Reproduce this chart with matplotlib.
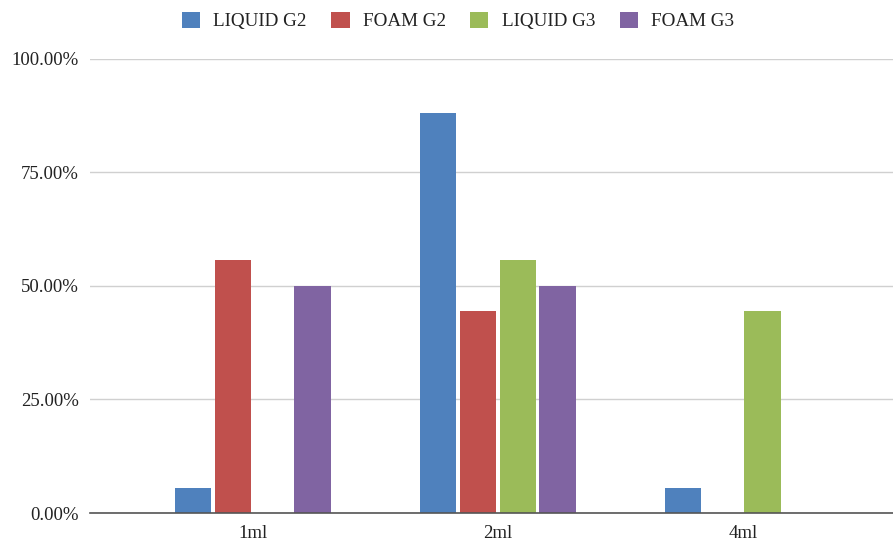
import matplotlib
matplotlib.use("Agg")
import matplotlib.pyplot as plt
import numpy as np
from matplotlib.ticker import FuncFormatter

categories = ["1ml", "2ml", "4ml"]
series_names = ["LIQUID G2", "FOAM G2", "LIQUID G3", "FOAM G3"]
liquid_g2 = [5.56, 88.0, 5.56]
foam_g2 = [55.56, 44.44, 0.0]
liquid_g3 = [0.0, 55.56, 44.44]
foam_g3 = [50.0, 50.0, 0.0]
colors = ["#4f81bd", "#c0504d", "#9bbb59", "#8064a2"]

plt.rcParams['font.family'] = ['Liberation Serif', 'DejaVu Serif']

fig = plt.figure(figsize=(8.93, 5.43), dpi=100)
ax = fig.add_axes([90/893, 30/543, 1 - 90/893, (513 - 58.5)/543])

x = np.arange(len(categories))
step = 0.1624
width = 0.149
all_series = [liquid_g2, foam_g2, liquid_g3, foam_g3]
for i, (name, vals, c) in enumerate(zip(series_names, all_series, colors)):
    offs = (i - 1.5) * step
    ax.bar(x + offs, vals, width=width, color=c, label=name, linewidth=0, zorder=3)

ax.set_xlim(-0.665, 2.613)
ax.set_ylim(0, 100)
ax.set_yticks([0, 25, 50, 75, 100])
ax.yaxis.set_major_formatter(FuncFormatter(lambda v, p: f"{v:.2f}%"))
ax.set_xticks(x)
ax.set_xticklabels(categories)
ax.grid(axis='y', color='#d0d0d0', linewidth=1, zorder=0)
ax.set_axisbelow(True)
for s in ['top', 'right', 'left']:
    ax.spines[s].set_visible(False)
ax.spines['bottom'].set_color('#555555')
ax.spines['bottom'].set_linewidth(1.2)
ax.spines['bottom'].set_zorder(4)
ax.tick_params(axis='both', length=0, labelsize=13.5, colors='#222222')
ax.tick_params(axis='y', pad=8)
ax.tick_params(axis='x', pad=9)

leg = fig.legend(loc='center', bbox_to_anchor=(458/893, 1 - 21/543), ncol=4,
                 frameon=False, fontsize=13.8, handlelength=0.94, handleheight=0.94,
                 handletextpad=0.68, columnspacing=1.3, borderaxespad=0, borderpad=0)
for t in leg.get_texts():
    t.set_color('#222222')

fig.savefig("out.png", dpi=100, facecolor='white')
